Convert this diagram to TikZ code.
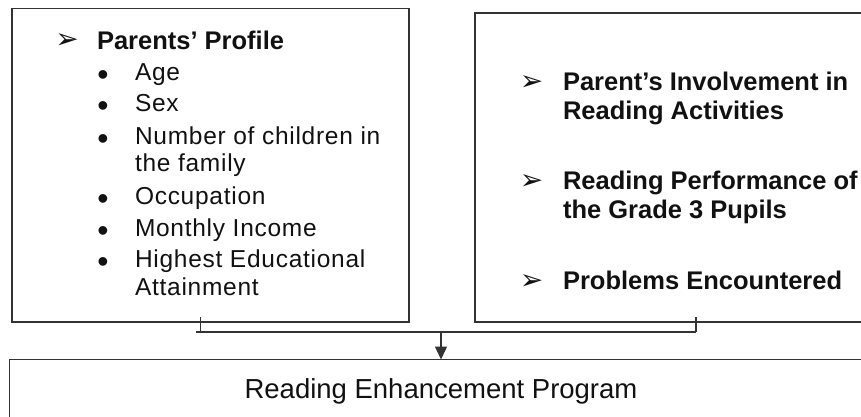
\documentclass[tikz,border=0pt]{standalone}
\usepackage{fontspec}
\setmainfont{Liberation Sans}
\newfontfamily\listfont{Liberation Sans}[LetterSpace=3]
\newfontfamily\dingfont{DejaVu Sans}
\usetikzlibrary{arrows.meta}
\definecolor{lineC}{HTML}{333333}
\definecolor{textC}{HTML}{111111}
\begin{document}
\begin{tikzpicture}[x=1pt,y=-1pt,
  box/.style={draw=lineC, line width=1.4pt, rectangle, inner sep=0pt, outer sep=0pt, anchor=north west},
  conn/.style={draw=lineC, line width=1.3pt},
  txt/.style={anchor=base west, inner sep=0pt, outer sep=0pt, text=textC},
  itemtxt/.style={txt, font=\listfont\fontsize{24.5pt}{30pt}\selectfont},
  headtxt/.style={txt, font=\bfseries\fontsize{25.5pt}{30pt}\selectfont},
  bul/.style={anchor=center, inner sep=0pt, outer sep=0pt, text=textC, font=\fontsize{32pt}{32pt}\selectfont},
  ding/.style={anchor=center, inner sep=0pt, outer sep=0pt, text=textC, font=\dingfont\fontsize{28pt}{28pt}\selectfont}]
\clip (0,0) rectangle (861,416);
% boxes
\node[box, minimum width=397pt, minimum height=313.5pt] (L) at (12,8.5) {};
\node[box, minimum width=420pt, minimum height=309pt] (R) at (475,13) {};
\node[box, minimum width=880pt, minimum height=100pt] (B) at (9.5,359.5) {};
% left box text
\node[ding] (la) at (67,41.5) {➢};
\node[headtxt] (lh) at (97,49) {Parents’ Profile};
\node[bul] (b1) at (103,78) {•};
\node[itemtxt] (i1) at (135,80) {Age};
\node[bul] (b2) at (103,109) {•};
\node[itemtxt] (i2) at (135,111) {Sex};
\node[bul] (b3) at (103,142) {•};
\node[itemtxt] (i3) at (135,144) {Number of children in};
\node[itemtxt] (i3b) at (135,171) {the family};
\node[bul] (b4) at (103,202) {•};
\node[itemtxt] (i4) at (135,204) {Occupation};
\node[bul] (b5) at (103,234) {•};
\node[itemtxt] (i5) at (135,236) {Monthly Income};
\node[bul] (b6) at (103,265) {•};
\node[itemtxt] (i6) at (135,267) {Highest Educational};
\node[itemtxt] (i6b) at (135,295) {Attainment};
% right box text
\node[ding] (ra1) at (531.5,83) {➢};
\node[headtxt] (r1) at (563,90) {Parent’s Involvement in};
\node[headtxt] (r1b) at (563,119) {Reading Activities};
\node[ding] (ra2) at (531.5,182) {➢};
\node[headtxt] (r2) at (563,189) {Reading Performance of};
\node[headtxt] (r2b) at (563,218) {the Grade 3 Pupils};
\node[ding] (ra3) at (531.5,282) {➢};
\node[headtxt] (r3) at (563,289) {Problems Encountered};
% bottom text
\node[anchor=base, inner sep=0pt, text=textC, font=\fontsize{27.5pt}{30pt}\selectfont] (bt) at (441,398) {Reading Enhancement Program};
% connectors
\coordinate (tl) at (200.7,317);
\coordinate (tr) at (696,317);
\coordinate (jl) at (196,332);
\coordinate (jr) at (696,332);
\coordinate (j) at (441,332);
\draw[conn] (tl) -- (tl |- jl);
\draw[conn] (tr) -- (jr);
\draw[conn] (jl) -- (jr);
\draw[conn, -{Triangle[length=13pt,width=12pt]}] (j) -- (j |- B.north);
\end{tikzpicture}
\end{document}
